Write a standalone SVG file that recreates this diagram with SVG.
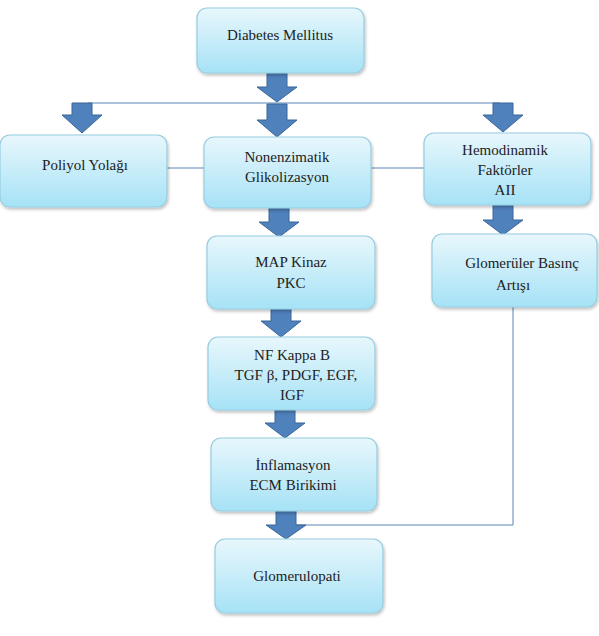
<svg xmlns="http://www.w3.org/2000/svg" width="599" height="636" viewBox="0 0 599 636">
<defs>
<linearGradient id="bg" x1="0" y1="0" x2="0" y2="1">
<stop offset="0" stop-color="#e8f7fc"/>
<stop offset="1" stop-color="#a6e2f6"/>
</linearGradient>
<filter id="sh" x="-10%" y="-10%" width="125%" height="130%">
<feDropShadow dx="1" dy="2" stdDeviation="1.5" flood-color="#000" flood-opacity="0.25"/>
</filter>
<style>
.box{fill:url(#bg);stroke:#96cde0;stroke-width:1.2;filter:url(#sh)}
.t{font-family:'Liberation Serif',serif;font-size:15px;fill:#222;text-anchor:middle}
.ln{fill:none;stroke:#5b86b8;stroke-width:1}
.ar{fill:#4f81bd;stroke:#3b6797;stroke-width:1}
</style>
</defs>
<rect width="599" height="636" fill="#fff"/>
<g id="connectors">
<path class="ln" d="M88,103 H500"/>
<path class="ln" d="M167,168 H204"/>
<path class="ln" d="M371,168 H424"/>
<path class="ln" d="M513,307 V525 H296"/>
<path class="ar" d="M267,73 h20 v14 h10 L277,102 L257,87 h10 Z"/>
<path class="ar" d="M267,104 h20 v16 h10 L277,137 L257,120 h10 Z"/>
<path class="ar" d="M72,103 h20 v12 h10 L82,133 L62,115 h10 Z"/>
<path class="ar" d="M493,103 h20 v12 h10 L503,132 L483,115 h10 Z"/>
<path class="ar" d="M269,208 h20 v14 h10 L279,237 L259,222 h10 Z"/>
<path class="ar" d="M493,205 h20 v15 h10 L503,235 L483,220 h10 Z"/>
<path class="ar" d="M271,309 h20 v12 h10 L281,337 L261,321 h10 Z"/>
<path class="ar" d="M275,410 h20 v13 h10 L285,438 L265,423 h10 Z"/>
<path class="ar" d="M276,511 h20 v14 h10 L286,539 L266,525 h10 Z"/>
</g>
<g id="diabetes">
<rect class="box" x="197" y="8" width="167" height="65" rx="10"/>
<text class="t" x="280" y="40">Diabetes Mellitus</text>
</g>
<g id="polyol">
<rect class="box" x="0" y="135" width="167" height="72" rx="10"/>
<text class="t" x="85" y="170">Poliyol Yolağı</text>
</g>
<g id="nonenzimatik">
<rect class="box" x="204" y="137" width="167" height="71" rx="10"/>
<text class="t" x="287" y="162">Nonenzimatik</text>
<text class="t" x="287" y="182">Glikolizasyon</text>
</g>
<g id="hemodinamik">
<rect class="box" x="424" y="133" width="167" height="72" rx="10"/>
<text class="t" x="505" y="155">Hemodinamik</text>
<text class="t" x="505" y="175">Faktörler</text>
<text class="t" x="505" y="195">AII</text>
</g>
<g id="mapkinaz">
<rect class="box" x="207" y="236" width="168" height="73" rx="10"/>
<text class="t" x="291" y="267">MAP Kinaz</text>
<text class="t" x="291" y="288">PKC</text>
</g>
<g id="glomeruler">
<rect class="box" x="432" y="234" width="165" height="73" rx="10"/>
<text class="t" x="522" y="268">Glomerüler Basınç</text>
<text class="t" x="513" y="290">Artışı</text>
</g>
<g id="nfkappab">
<rect class="box" x="208" y="337" width="167" height="73" rx="10"/>
<text class="t" x="292" y="360">NF Kappa B</text>
<text class="t" x="296" y="380">TGF β, PDGF, EGF,</text>
<text class="t" x="292" y="400">IGF</text>
</g>
<g id="inflamasyon">
<rect class="box" x="211" y="438" width="166" height="73" rx="10"/>
<text class="t" x="293" y="470">İnflamasyon</text>
<text class="t" x="293" y="490">ECM Birikimi</text>
</g>
<g id="glomerulopati">
<rect class="box" x="215" y="539" width="168" height="74" rx="10"/>
<text class="t" x="297" y="581">Glomerulopati</text>
</g>
</svg>
